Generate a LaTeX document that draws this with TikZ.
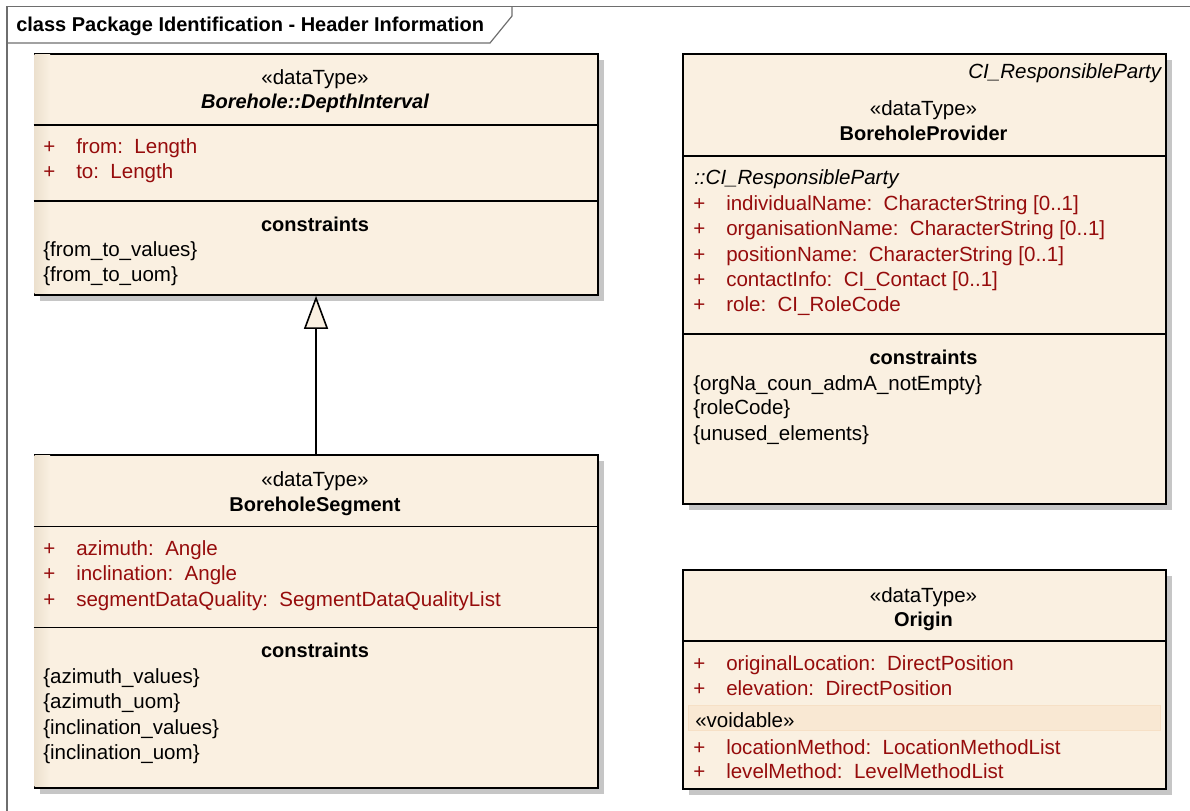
\documentclass[tikz,border=0pt]{standalone}
\usepackage{fontspec}
\setmainfont{Liberation Sans}
\usetikzlibrary{arrows.meta,shadows}
\definecolor{boxfill}{RGB}{250,240,225}
\definecolor{boxedge}{RGB}{236,224,206}
\definecolor{attrred}{RGB}{150,12,12}
\definecolor{shadowc}{RGB}{198,198,198}
\definecolor{voidfill}{RGB}{249,232,211}
\definecolor{voiddraw}{RGB}{246,224,198}
\definecolor{framec}{RGB}{110,110,110}
\newcommand\bodyfont{\fontsize{15.4}{18}\selectfont}
\newcommand\headfont{\fontsize{15}{18}\selectfont}
\tikzset{
  classbox/.style={draw=black, line width=1.4pt, fill=boxfill, inner sep=0pt, anchor=north west,
    drop shadow={shadow xshift=4.5pt, shadow yshift=-4.5pt, fill=shadowc, opacity=1}},
  sep/.style={line width=1.2pt, black},
  txt/.style={font=\bodyfont, inner sep=0pt, anchor=base west, text=black},
  ctr/.style={txt, anchor=base},
  attr/.style={txt, text=attrred},
  gen/.style={line width=1.2pt, -{Triangle[length=24.75pt,width=18pt,fill=boxfill]}},
}
\begin{document}
\begin{tikzpicture}[x=0.75pt,y=-0.75pt]
\useasboundingbox (0,0) rectangle (1190,811);
\begin{scope}
\clip (0,0) rectangle (1190,811);
% frame
\draw[framec, line width=0.9pt] (7,830) -- (7,6.5) -- (1200,6.5);
\draw[framec, line width=0.9pt] (7,43) -- (490,43) -- (512,16) -- (512,6.5);
\node[anchor=base west, inner sep=0pt, font=\headfont\bfseries] (title) at (16,31) {class Package Identification - Header Information};

% ---------- DepthInterval ----------
\node[classbox, minimum width=422.4pt, minimum height=180.75pt] (di) at (33.5,53) {};
\shade[left color=boxedge, right color=boxfill] (34.5,54) rectangle (50,293);
\draw[sep] (di.west |- 0,125) -- (di.east |- 0,125);
\draw[sep] (di.west |- 0,201) -- (di.east |- 0,201);
\node[ctr] (di-st) at (315,84) {«dataType»};
\node[ctr, font=\headfont\bfseries\itshape] (di-nm) at (315,108.5) {Borehole::DepthInterval};
\node[attr] (di-p1) at (43,153.5) {+};
\node[attr] (di-a1) at (76,153.5) {from:\ \ Length};
\node[attr] (di-p2) at (43,178.5) {+};
\node[attr] (di-a2) at (76,178.5) {to:\ \ Length};
\node[ctr, font=\headfont\bfseries] (di-ct) at (315,231) {constraints};
\node[txt] (di-c1) at (43,256) {\{from\_to\_values\}};
\node[txt] (di-c2) at (43,281) {\{from\_to\_uom\}};

% ---------- BoreholeSegment ----------
\node[classbox, minimum width=422.4pt, minimum height=249.5pt] (bs) at (33.5,454.3) {};
\shade[left color=boxedge, right color=boxfill] (34.5,455.3) rectangle (50,786);
\draw[sep] (bs.west |- 0,526.5) -- (bs.east |- 0,526.5);
\draw[sep] (bs.west |- 0,627.5) -- (bs.east |- 0,627.5);
\node[ctr] (bs-st) at (315,486.5) {«dataType»};
\node[ctr, font=\headfont\bfseries] (bs-nm) at (315,511.7) {BoreholeSegment};
\node[attr] (bs-p1) at (43,555) {+};
\node[attr] (bs-a1) at (76,555) {azimuth:\ \ Angle};
\node[attr] (bs-p2) at (43,580) {+};
\node[attr] (bs-a2) at (76,580) {inclination:\ \ Angle};
\node[attr] (bs-p3) at (43,606) {+};
\node[attr] (bs-a3) at (76,606) {segmentDataQuality:\ \ SegmentDataQualityList};
\node[ctr, font=\headfont\bfseries] (bs-ct) at (315,657.7) {constraints};
\node[txt] (bs-c1) at (43,683.3) {\{azimuth\_values\}};
\node[txt] (bs-c2) at (43,708.3) {\{azimuth\_uom\}};
\node[txt] (bs-c3) at (43,734.3) {\{inclination\_values\}};
\node[txt] (bs-c4) at (43,759.3) {\{inclination\_uom\}};

% generalization
\draw[gen] (bs.north) -- (di.south);

% ---------- BoreholeProvider ----------
\node[classbox, minimum width=362.25pt, minimum height=337.3pt] (bp) at (682,53) {};
\draw[sep] (bp.west |- 0,156) -- (bp.east |- 0,156);
\draw[sep] (bp.west |- 0,333.7) -- (bp.east |- 0,333.7);
\node[txt, anchor=base east, font=\bodyfont\itshape] (bp-tv) at (1161.5,78.3) {CI\_ResponsibleParty};
\node[ctr] (bp-st) at (923.5,115.7) {«dataType»};
\node[ctr, font=\headfont\bfseries] (bp-nm) at (923.5,140.7) {BoreholeProvider};
\node[txt, font=\bodyfont\itshape] (bp-in) at (694,184) {::CI\_ResponsibleParty};
\node[attr] (bp-p1) at (693,210) {+};
\node[attr] (bp-a1) at (726,210) {individualName:\ \ CharacterString [0..1]};
\node[attr] (bp-p2) at (693,235.5) {+};
\node[attr] (bp-a2) at (726,235.5) {organisationName:\ \ CharacterString [0..1]};
\node[attr] (bp-p3) at (693,261) {+};
\node[attr] (bp-a3) at (726,261) {positionName:\ \ CharacterString [0..1]};
\node[attr] (bp-p4) at (693,286) {+};
\node[attr] (bp-a4) at (726,286) {contactInfo:\ \ CI\_Contact [0..1]};
\node[attr] (bp-p5) at (693,311.5) {+};
\node[attr] (bp-a5) at (726,311.5) {role:\ \ CI\_RoleCode};
\node[ctr, font=\headfont\bfseries] (bp-ct) at (923.5,364) {constraints};
\node[txt] (bp-c1) at (693,390) {\{orgNa\_coun\_admA\_notEmpty\}};
\node[txt] (bp-c2) at (693,414.5) {\{roleCode\}};
\node[txt] (bp-c3) at (693,440) {\{unused\_elements\}};

% ---------- Origin ----------
\node[classbox, minimum width=362.25pt, minimum height=164.25pt] (or) at (682,569) {};
\draw[sep] (or.west |- 0,641) -- (or.east |- 0,641);
\node[ctr] (or-st) at (923.5,602) {«dataType»};
\node[ctr, font=\headfont\bfseries] (or-nm) at (923.5,626.7) {Origin};
\node[attr] (or-p1) at (693,670) {+};
\node[attr] (or-a1) at (726,670) {originalLocation:\ \ DirectPosition};
\node[attr] (or-p2) at (693,695) {+};
\node[attr] (or-a2) at (726,695) {elevation:\ \ DirectPosition};
\draw[fill=voidfill, draw=voiddraw, line width=0.6pt] (688,705.7) rectangle (1160,730.7);
\node[txt] (or-vd) at (695,727.5) {«voidable»};
\node[attr] (or-p3) at (693,754) {+};
\node[attr] (or-a3) at (726,754) {locationMethod:\ \ LocationMethodList};
\node[attr] (or-p4) at (693,778.5) {+};
\node[attr] (or-a4) at (726,778.5) {levelMethod:\ \ LevelMethodList};
\end{scope}
\end{tikzpicture}
\end{document}
